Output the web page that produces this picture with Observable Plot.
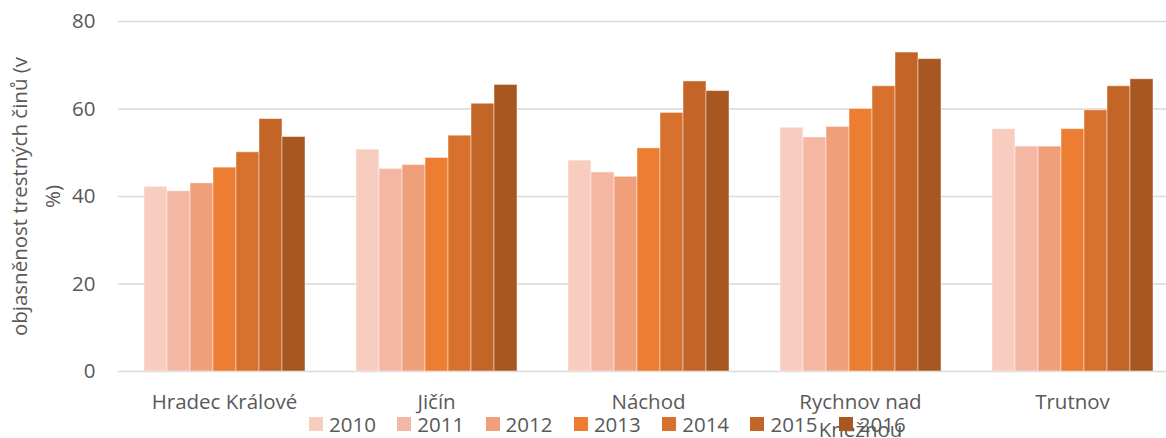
<!DOCTYPE html>
<html>
<head>
<meta charset="utf-8">
<script src="https://cdn.jsdelivr.net/npm/d3@7"></script>
<script src="https://cdn.jsdelivr.net/npm/@observablehq/plot@0.6"></script>
<style>
  html, body { margin: 0; padding: 0; background: #fff; overflow: hidden; }
  #wrap { position: relative; width: 1166px; height: 438px; font-family: "Open Sans", sans-serif; color: #595959; }
  #legend { position: absolute; top: 410px; left: 309px; display: flex; }
  .item { width: 88.3px; height: 28px; display: flex; align-items: center; font-size: 20.5px; white-space: nowrap; }
  .sw { width: 14px; height: 14px; margin-right: 6px; flex: none; }
</style>
</head>
<body>
<div id="wrap"><div id="legend"></div></div>
<script>
// ---- data ----
const districts = ["Hradec Králové", "Jičín", "Náchod", "Rychnov nad Kněžnou", "Trutnov"];
const districtLabels = ["Hradec Králové", "Jičín", "Náchod", "Rychnov nad\nKněžnou", "Trutnov"];
const years = ["2010", "2011", "2012", "2013", "2014", "2015", "2016"];
const hradec  = [42.2, 41.2, 43.0, 46.6, 50.1, 57.7, 53.6];
const jicin   = [50.7, 46.3, 47.2, 48.8, 53.9, 61.2, 65.5];
const nachod  = [48.2, 45.5, 44.5, 51.0, 59.1, 66.3, 64.1];
const rychnov = [55.7, 53.5, 55.9, 60.0, 65.2, 72.9, 71.4];
const trutnov = [55.4, 51.4, 51.4, 55.4, 59.7, 65.2, 66.8];
const yTicks = [0, 20, 40, 60, 80];
const yLabelLines = ["objasněnost trestných činů (v", "%)"];
const colors = ["#F7CDBF", "#F4B7A3", "#F09F7B", "#ED7D31", "#D8712D", "#C26527", "#A85721"];

const series = [hradec, jicin, nachod, rychnov, trutnov];
const data = [];
districts.forEach((d, i) => years.forEach((y, j) => data.push({district: d, year: y, value: series[i][j]})));
const labelOf = new Map(districts.map((d, i) => [d, districtLabels[i]]));

const chart = Plot.plot({
  width: 1166,
  height: 438,
  marginLeft: 118,
  marginRight: -12,
  marginTop: 21,
  marginBottom: 67,
  style: {fontFamily: "Open Sans, sans-serif", fontSize: "20.5px", color: "#595959", background: "#fff"},
  fx: {domain: districts, padding: 0, label: null},
  x: {domain: years, paddingInner: 0, paddingOuter: 1.1, axis: null},
  y: {domain: [0, 80], label: null},
  color: {domain: years, range: colors},
  marks: [
    Plot.gridY(yTicks, {stroke: "#d9d9d9", strokeOpacity: 1, strokeWidth: 1.3}),
    Plot.barY(data, {fx: "district", x: "year", y: "value", fill: "year", stroke: "#ffffff", strokeOpacity: 0.45, strokeWidth: 1}),
    Plot.axisY(yTicks, {tickSize: 0, tickPadding: 23, fontSize: 20.5, label: null}),
    Plot.axisFx({anchor: "bottom", tickSize: 0, tickPadding: 18, fontSize: 20.5, label: null, lineHeight: 1.35, tickFormat: d => labelOf.get(d)}),
    Plot.text([yLabelLines[0]], {facet: "super", frameAnchor: "left", textAnchor: "middle", rotate: -90, dx: -98, fontSize: 20.5, fill: "#595959", lineAnchor: "middle"}),
    Plot.text([yLabelLines[1]], {facet: "super", frameAnchor: "left", textAnchor: "middle", rotate: -90, dx: -65, fontSize: 20.5, fill: "#595959", lineAnchor: "middle"})
  ]
});
document.getElementById("wrap").prepend(chart);

const legend = document.getElementById("legend");
years.forEach((y, i) => {
  const it = document.createElement("div");
  it.className = "item";
  const sw = document.createElement("span");
  sw.className = "sw";
  sw.style.background = colors[i];
  const t = document.createElement("span");
  t.textContent = y;
  it.append(sw, t);
  legend.append(it);
});
</script>
</body>
</html>
